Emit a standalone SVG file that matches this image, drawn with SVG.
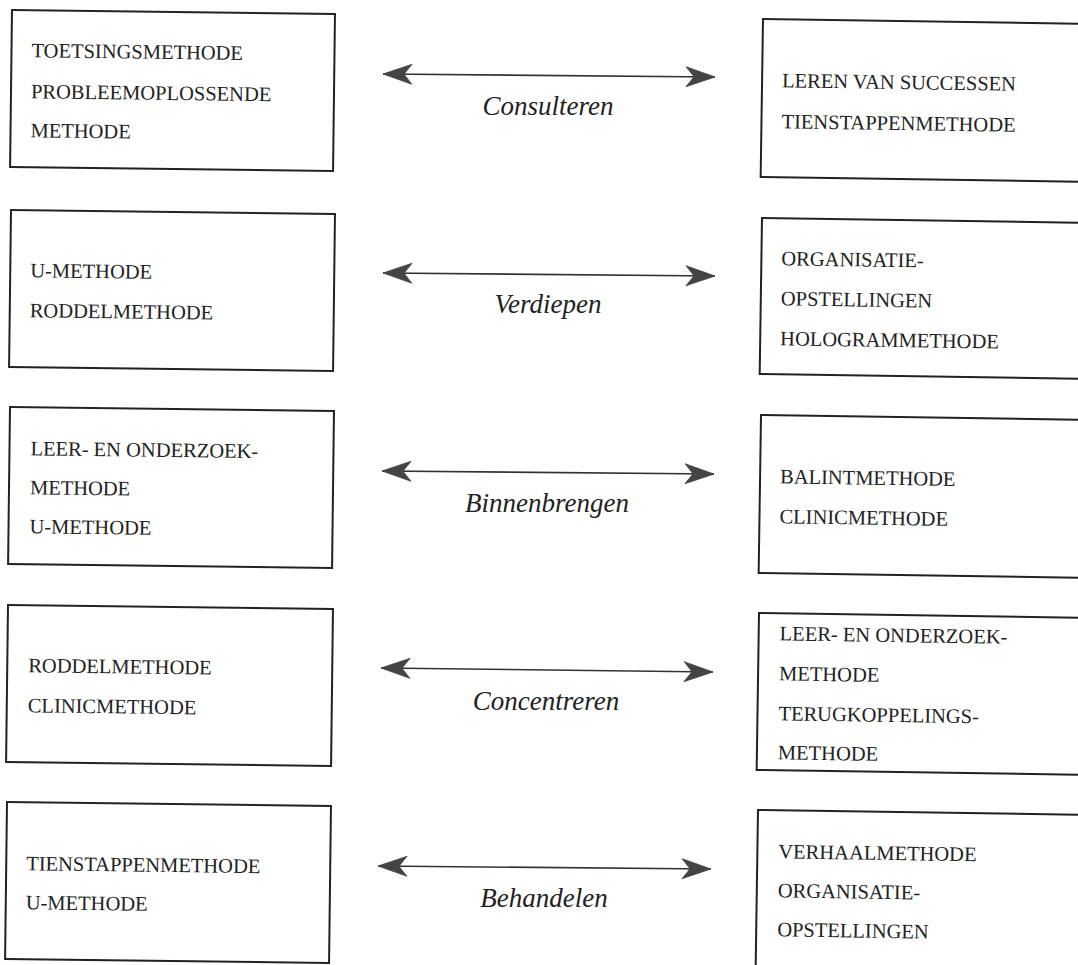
<svg xmlns="http://www.w3.org/2000/svg" width="1078" height="965" viewBox="0 0 1078 965">
<style>
.box{fill:#fff;stroke:#222;stroke-width:2}
.t{font-family:"Liberation Serif","Times New Roman",serif;font-size:20.5px;fill:#222}
.lbl{font-family:"Liberation Serif","Times New Roman",serif;font-style:italic;font-size:27px;fill:#222;text-anchor:middle}
.arr{stroke:#333;stroke-width:1.6;fill:none;marker-start:url(#ah);marker-end:url(#ah)}
</style>
<defs>
<marker id="ah" markerUnits="userSpaceOnUse" markerWidth="32" markerHeight="24" viewBox="-30 -12 32 24" refX="0" refY="0" orient="auto-start-reverse">
<path d="M0,0 L-29,-10 L-21,0 L-29,10 Z" fill="#444" stroke="#444" stroke-width="0.8" stroke-linejoin="round"/>
</marker>
</defs>
<rect width="1078" height="965" fill="#fff"/>

<g id="L1" transform="rotate(0.7 12 10)">
<rect class="box" x="12" y="10" width="323" height="157"/>
<text class="t" x="32" y="57">TOETSINGSMETHODE</text>
<text class="t" x="32" y="98">PROBLEEMOPLOSSENDE</text>
<text class="t" x="32" y="137">METHODE</text>
</g>
<g id="L2" transform="rotate(0.7 11 210)">
<rect class="box" x="11" y="210" width="324" height="157"/>
<text class="t" x="31" y="277">U-METHODE</text>
<text class="t" x="31" y="317">RODDELMETHODE</text>
</g>
<g id="L3" transform="rotate(0.7 10 407)">
<rect class="box" x="10" y="407" width="324" height="157"/>
<text class="t" x="31" y="455">LEER- EN ONDERZOEK-</text>
<text class="t" x="31" y="494">METHODE</text>
<text class="t" x="31" y="533">U-METHODE</text>
</g>
<g id="L4" transform="rotate(0.7 8 605)">
<rect class="box" x="8" y="605" width="325" height="157"/>
<text class="t" x="29" y="672">RODDELMETHODE</text>
<text class="t" x="29" y="712">CLINICMETHODE</text>
</g>
<g id="L5" transform="rotate(0.7 7 802)">
<rect class="box" x="7" y="802" width="324" height="157"/>
<text class="t" x="27" y="870">TIENSTAPPENMETHODE</text>
<text class="t" x="27" y="909">U-METHODE</text>
</g>

<g id="R1" transform="rotate(0.85 763 19)">
<rect class="box" x="763" y="19" width="340" height="158"/>
<text class="t" x="783" y="87">LEREN VAN SUCCESSEN</text>
<text class="t" x="783" y="128">TIENSTAPPENMETHODE</text>
</g>
<g id="R2" transform="rotate(0.85 762 218)">
<rect class="box" x="762" y="218" width="340" height="156"/>
<text class="t" x="782" y="265">ORGANISATIE-</text>
<text class="t" x="782" y="305">OPSTELLINGEN</text>
<text class="t" x="782" y="345">HOLOGRAMMETHODE</text>
</g>
<g id="R3" transform="rotate(0.85 761 415)">
<rect class="box" x="761" y="415" width="340" height="158"/>
<text class="t" x="781" y="483">BALINTMETHODE</text>
<text class="t" x="781" y="523">CLINICMETHODE</text>
</g>
<g id="R4" transform="rotate(0.85 759 613)">
<rect class="box" x="759" y="613" width="340" height="157"/>
<text class="t" x="780" y="640">LEER- EN ONDERZOEK-</text>
<text class="t" x="780" y="680">METHODE</text>
<text class="t" x="780" y="720">TERUGKOPPELINGS-</text>
<text class="t" x="780" y="759">METHODE</text>
</g>
<g id="R5" transform="rotate(0.85 758 810)">
<rect class="box" x="758" y="810" width="340" height="160"/>
<text class="t" x="779" y="858">VERHAALMETHODE</text>
<text class="t" x="779" y="897">ORGANISATIE-</text>
<text class="t" x="779" y="936">OPSTELLINGEN</text>
</g>

<g id="connectors">
<line class="arr" x1="383" y1="74" x2="715" y2="77"/>
<line class="arr" x1="383" y1="273" x2="715" y2="276"/>
<line class="arr" x1="382" y1="471" x2="714" y2="474"/>
<line class="arr" x1="381" y1="668" x2="713" y2="672"/>
<line class="arr" x1="378" y1="866" x2="711" y2="869"/>
<text class="lbl" x="548" y="115">Consulteren</text>
<text class="lbl" x="548" y="313">Verdiepen</text>
<text class="lbl" x="547" y="512">Binnenbrengen</text>
<text class="lbl" x="546" y="710">Concentreren</text>
<text class="lbl" x="544" y="907">Behandelen</text>
</g>
</svg>
